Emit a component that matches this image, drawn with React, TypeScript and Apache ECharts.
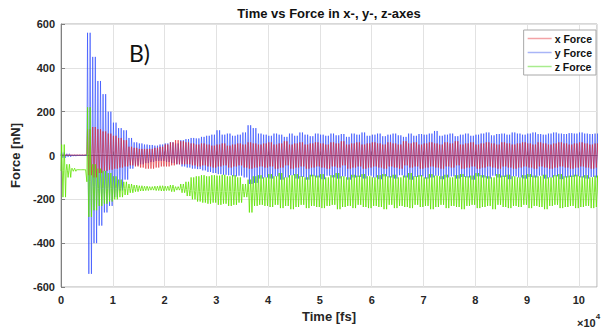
import React, { useEffect, useRef } from "react";
import * as echarts from "echarts";

// Window length (fs) of each envelope entry below
const WINDOW_FS = 1000;

// x Force (red): per-window upper peak, core level and lower peak [nN]
const xTop = [3, 3, 3, 3, 3, 120, 130, 120, 110, 100,
  90, 80, 70, 40, 35, 30, 30, 30, 35, 40,
  50, 60, 70, 65, 60, 55, 50, 55, 50, 45,
  50, 55, 45, 50, 55, 50, 60, 55, 50, 55,
  60, 50, 55, 65, 50, 55, 60, 50, 55, 60,
  55, 50, 60, 55, 65, 50, 55, 60, 50, 55,
  60, 55, 50, 60, 55, 50, 65, 55, 60, 50,
  55, 60, 55, 50, 60, 55, 65, 50, 55, 60,
  50, 55, 60, 55, 50, 60, 55, 50, 55, 60,
  55, 50, 60, 55, 50, 55, 60, 55, 50, 55,
  60, 55, 50, 55];
const xMid = [2, 2, 2, 2, 2, 10, 10, 10, 10, 5,
  5, 0, 0, -10, -10, -10, -15, -15, -10, -10,
  0, 0, 0, 0, 0, 0, 0, 0, 0, 0,
  0, 0, 0, 0, 0, 0, 0, 0, 0, 0,
  0, 0, 0, 0, 0, 0, 0, 0, 0, 0,
  0, 0, 0, 0, 0, 0, 0, 0, 0, 0,
  0, 0, 0, 0, 0, 0, 0, 0, 0, 0,
  0, 0, 0, 0, 0, 0, 0, 0, 0, 0,
  0, 0, 0, 0, 0, 0, 0, 0, 0, 0,
  0, 0, 0, 0, 0, 0, 0, 0, 0, 0,
  0, 0, 0, 0];
const xBot = [1, 1, 1, 1, 1, -90, -100, -80, -70, -65,
  -60, -55, -50, -45, -50, -55, -60, -60, -55, -50,
  -50, -45, -40, -40, -40, -45, -50, -45, -50, -55,
  -50, -45, -55, -50, -45, -55, -60, -55, -50, -55,
  -50, -60, -55, -45, -60, -55, -50, -60, -55, -50,
  -55, -60, -50, -55, -45, -60, -55, -50, -60, -55,
  -50, -55, -60, -50, -55, -60, -45, -55, -50, -60,
  -55, -50, -55, -60, -50, -55, -45, -60, -55, -50,
  -60, -55, -50, -55, -60, -50, -55, -60, -55, -50,
  -55, -60, -50, -55, -60, -55, -50, -55, -60, -55,
  -50, -55, -60, -55];

// y Force (blue)
const yTop = [14, 8, 3, 2, 2, 560, 450, 340, 280, 200,
  150, 125, 115, 80, 60, 55, 50, 48, 45, 50,
  55, 60, 55, 70, 75, 80, 78, 85, 90, 95,
  115, 95, 100, 90, 95, 105, 138, 125, 100, 95,
  90, 100, 95, 85, 100, 90, 105, 95, 88, 100,
  95, 90, 100, 92, 98, 85, 100, 95, 105, 90,
  95, 100, 88, 95, 100, 92, 85, 100, 90, 98,
  95, 100, 112, 90, 95, 100, 88, 95, 100, 90,
  95, 100, 105, 92, 98, 100, 95, 105, 100, 95,
  100, 105, 98, 95, 100, 105, 100, 98, 102, 100,
  105, 100, 98, 100];
const yMid = [2, 2, 2, 2, 2, 10, 10, 10, 10, 10,
  10, 5, 5, 5, 5, 5, 5, 5, 5, 5,
  5, 5, 5, 5, 5, 5, 5, 5, 5, 5,
  5, 5, 5, 5, 5, 5, 5, 5, 5, 5,
  5, 5, 5, 5, 5, 5, 5, 5, 5, 5,
  5, 5, 5, 5, 5, 5, 5, 5, 5, 5,
  5, 5, 5, 5, 5, 5, 5, 5, 5, 5,
  5, 5, 5, 5, 5, 5, 5, 5, 5, 5,
  5, 5, 5, 5, 5, 5, 5, 5, 5, 5,
  5, 5, 5, 5, 5, 5, 5, 5, 5, 5,
  5, 5, 5, 5];
const yBot = [-10, -6, -3, -2, -2, -540, -400, -320, -260, -230,
  -190, -160, -110, -60, -45, -40, -35, -30, -25, -25,
  -30, -35, -40, -50, -55, -60, -62, -68, -75, -80,
  -85, -88, -90, -95, -92, -100, -130, -125, -105, -100,
  -105, -95, -110, -100, -90, -105, -98, -110, -95, -100,
  -108, -92, -100, -105, -95, -110, -100, -98, -105, -92,
  -100, -108, -95, -100, -105, -90, -100, -110, -98, -95,
  -105, -100, -92, -108, -100, -95, -105, -98, -100, -110,
  -95, -100, -105, -92, -100, -98, -108, -95, -100, -105,
  -98, -100, -92, -105, -100, -95, -108, -100, -98, -95,
  -100, -105, -98, -100];

// z Force (green)
const zTop = [50, -40, -58, -64, -64, 220, -40, -60, -70, -80,
  -95, -110, -120, -130, -135, -138, -140, -142, -140, -138,
  -140, -135, -142, -130, -120, -100, -95, -90, -95, -90,
  -92, -88, -95, -90, -100, -130, -110, -95, -90, -100,
  -85, -95, -80, -100, -90, -85, -95, -100, -88, -92,
  -85, -100, -90, -80, -95, -100, -88, -92, -85, -95,
  -100, -90, -85, -95, -88, -100, -92, -80, -95, -90,
  -100, -85, -92, -95, -88, -100, -90, -85, -95, -92,
  -80, -90, -95, -100, -85, -92, -88, -95, -100, -90,
  -85, -92, -95, -88, -100, -90, -85, -95, -92, -88,
  -95, -90, -100, -92];
const zMid = [-70, -70, -65, -65, -65, -120, -140, -150, -150, -150,
  -150, -150, -150, -150, -150, -150, -150, -150, -150, -150,
  -150, -150, -150, -150, -155, -160, -165, -165, -165, -165,
  -165, -165, -165, -165, -165, -165, -170, -170, -170, -170,
  -170, -170, -170, -170, -170, -170, -170, -170, -170, -170,
  -170, -170, -170, -170, -170, -170, -170, -170, -170, -170,
  -170, -170, -170, -170, -170, -170, -170, -170, -170, -170,
  -170, -170, -170, -170, -170, -170, -170, -170, -170, -170,
  -170, -170, -170, -170, -170, -170, -170, -170, -170, -170,
  -170, -170, -170, -170, -170, -170, -170, -170, -170, -170,
  -170, -170, -170, -170];
const zBot = [-190, -100, -72, -66, -66, -280, -250, -230, -220, -210,
  -200, -190, -180, -170, -165, -162, -160, -158, -160, -162,
  -160, -165, -158, -170, -185, -200, -210, -215, -220, -215,
  -225, -220, -230, -225, -215, -190, -260, -230, -225, -230,
  -235, -225, -240, -230, -245, -235, -225, -240, -230, -235,
  -240, -230, -225, -245, -235, -230, -240, -225, -235, -240,
  -230, -235, -245, -225, -240, -230, -235, -240, -225, -235,
  -230, -245, -235, -225, -240, -230, -235, -245, -230, -225,
  -240, -235, -230, -245, -225, -235, -240, -230, -235, -225,
  -240, -230, -235, -245, -230, -225, -240, -235, -230, -240,
  -235, -230, -240, -235];

const seriesNames = ["x Force", "y Force", "z Force"];
const yTicks = [-600, -400, -200, 0, 200, 400, 600];

// Within each window: core -> top peak -> core -> bottom peak, twice
function oscillation(top: number[], mid: number[], bot: number[]) {
  const pts: number[][] = [];
  top.forEach((t, k) => {
    const m = mid[k];
    const b = bot[k];
    const s = k * WINDOW_FS;
    pts.push(
      [s, m], [s + 125, t], [s + 250, m], [s + 375, b],
      [s + 500, m], [s + 625, t], [s + 750, m], [s + 875, b]
    );
  });
  return pts;
}

export default function App() {
  const ref = useRef<HTMLDivElement>(null);
  useEffect(() => {
    if (!ref.current) return;
    const chart = echarts.init(ref.current, null, { renderer: "svg" });
    const font = "'Liberation Sans', Arial, sans-serif";
    const colors = ["rgba(225,35,45,0.62)", "rgba(40,70,255,0.62)", "rgba(95,228,0,0.8)"];
    const legendColors = ["#f3a3a6", "#a9b5f7", "#a8ec8e"];
    const datasets = [
      oscillation(xTop, xMid, xBot),
      oscillation(yTop, yMid, yBot),
      oscillation(zTop, zMid, zBot),
    ];
    const zOrder = [4, 3, 5];
    chart.setOption({
      animation: false,
      backgroundColor: "#ffffff",
      grid: { left: 61, right: 11, top: 24, bottom: 47, show: true, borderColor: "#b0b0b0", borderWidth: 1 },
      legend: {
        data: seriesNames.map((name, i) => ({ name, itemStyle: { color: legendColors[i] } })),
        orient: "vertical",
        right: 12,
        top: 30,
        icon: "rect",
        itemWidth: 24,
        itemHeight: 1.5,
        itemGap: 3,
        padding: [3, 4, 3, 4],
        backgroundColor: "#ffffff",
        borderColor: "#a8a8a8",
        borderWidth: 1,
        borderRadius: 0,
        textStyle: { fontFamily: font, fontWeight: "bold", fontSize: 10.5, color: "#111", padding: [0, 0, 0, -2] },
      },
      xAxis: {
        type: "value",
        min: 0,
        max: 103500,
        interval: 10000,
        name: "Time [fs]",
        nameLocation: "middle",
        nameGap: 23,
        nameTextStyle: { fontFamily: font, fontWeight: "bold", fontSize: 13, color: "#262626" },
        axisLine: { show: true, lineStyle: { color: "#808080" } },
        axisTick: { show: true, inside: true, length: 4, lineStyle: { color: "#808080" } },
        axisLabel: {
          fontFamily: font, fontWeight: "bold", fontSize: 11, color: "#262626", margin: 7,
          showMaxLabel: false,
          formatter: (v: number) => (v % 10000 === 0 ? String(v / 10000) : ""),
        },
        splitLine: { show: true, lineStyle: { color: "#e2e2e2" } },
      },
      yAxis: {
        type: "value",
        min: yTicks[0],
        max: yTicks[yTicks.length - 1],
        interval: 200,
        name: "Force [nN]",
        nameLocation: "middle",
        nameGap: 35,
        nameTextStyle: { fontFamily: font, fontWeight: "bold", fontSize: 13, color: "#262626" },
        axisLine: { show: true, lineStyle: { color: "#808080" } },
        axisTick: { show: true, inside: true, length: 4, lineStyle: { color: "#808080" } },
        axisLabel: { fontFamily: font, fontWeight: "bold", fontSize: 11, color: "#262626", margin: 6 },
        splitLine: { show: true, lineStyle: { color: "#e2e2e2" } },
      },
      series: seriesNames.map((name, i) => ({
        name,
        type: "line",
        data: datasets[i],
        symbol: "none",
        showSymbol: false,
        color: colors[i],
        itemStyle: { color: colors[i] },
        lineStyle: { width: 1, color: colors[i] },
        z: zOrder[i],
      })),
      graphic: [
        {
          type: "text",
          x: 329,
          y: 7,
          style: {
            text: "Time vs Force in x-, y-, z-axes",
            fontFamily: font, fontWeight: "bold", fontSize: 13, fill: "#111",
            textAlign: "center",
          },
        },
        {
          type: "text",
          x: 129,
          y: 41,
          style: { text: "B)", fontFamily: "Lato, 'Open Sans', sans-serif", fontSize: 23, fill: "#111" },
        },
        {
          type: "text",
          x: 577,
          y: 312,
          style: {
            text: "{a|×10}{b|4}",
            rich: {
              a: { fontFamily: font, fontWeight: "bold", fontSize: 11, fill: "#262626", verticalAlign: "bottom" },
              b: { fontFamily: font, fontWeight: "bold", fontSize: 8, fill: "#262626", verticalAlign: "top", padding: [0, 0, 8, 0] },
            },
          },
        },
      ],
    });
    return () => chart.dispose();
  }, []);
  return <div ref={ref} style={{ width: 608, height: 334, position: "absolute", left: 0, top: 0 }} />;
}
